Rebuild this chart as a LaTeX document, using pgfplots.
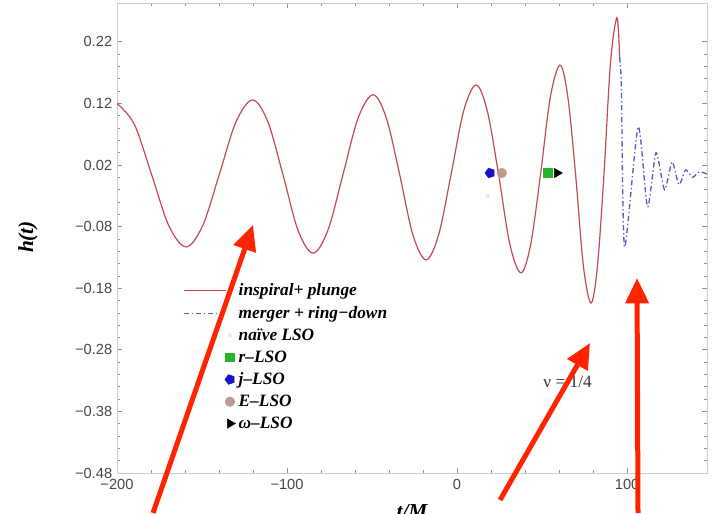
\documentclass[border=0pt]{standalone}
\usepackage{fontspec}
\setmainfont{Liberation Serif}
\setsansfont{Liberation Sans}
\usepackage{pgfplots}
\pgfplotsset{compat=1.18}
\usetikzlibrary{arrows.meta}
\definecolor{wave}{RGB}{200,70,85}
\definecolor{ring}{RGB}{90,90,200}
\definecolor{arr}{RGB}{255,35,0}
\definecolor{eLSO}{RGB}{190,155,145}
\definecolor{rLSO}{RGB}{40,180,40}
\definecolor{jLSO}{RGB}{20,20,200}
\definecolor{naive}{RGB}{215,215,190}
\definecolor{frame}{RGB}{205,205,205}
\definecolor{ticklab}{RGB}{70,70,70}
\pgfplotsset{
  linelegend/.style={legend image code/.code={\draw[##1] (0pt,0pt) -- (31.5pt,0pt); \path[draw=none,fill=none] (0pt,0pt) (40pt,0pt);}},
  marklegend/.style={legend image code/.code={\draw[##1] plot coordinates {(34.5pt,0pt)}; \path[draw=none,fill=none] (0pt,0pt) (40pt,0pt);}},
}
\begin{document}
\begin{tikzpicture}
\begin{axis}[
  at={(87.75pt,30pt)}, anchor=south west,
  scale only axis, width=442.5pt, height=352.5pt,
  xmin=-200, xmax=147, ymin=-0.48, ymax=0.283,
  xtick={-200,-100,0,100}, xticklabels={−200,−100,0,100},
  ytick={-0.48,-0.38,-0.28,-0.18,-0.08,0.02,0.12,0.22},
  yticklabels={−0.48,−0.38,−0.28,−0.18,−0.08,0.02,0.12,0.22},
  minor x tick num=4, minor y tick num=4,
  axis line style={frame, line width=0.6pt},
  tick style={frame!70!black, line width=0.5pt},
  major tick length=4pt, minor tick length=2pt,
  tick label style={font=\sffamily\fontsize{11}{13}\selectfont, text=ticklab},
  xticklabel style={yshift=-1.5pt},
  legend style={at={(0.112,0.406)}, anchor=north west, draw=none, fill=none,
    font=\fontsize{13}{15}\selectfont\bfseries\itshape, inner sep=0pt, row sep=4.3pt,
    nodes={inner sep=1pt}},
  legend cell align=left,
]
\addplot[wave, line width=0.9pt, smooth, tension=0.55, linelegend]
  coordinates {
(-200,0.12) (-189.85,0.0863) (-179.7,0.005) (-169.55,-0.0784) (-159.4,-0.113)
(-149.6,-0.0784) (-139.8,0.005) (-130.0,0.0902) (-120.2,0.1255)
(-111.3,0.0902) (-102.45,0.005) (-93.6,-0.0855) (-84.7,-0.123)
(-75.9,-0.0855) (-67.05,0.005) (-58.2,0.0962) (-49.4,0.134)
(-41.6,0.0962) (-33.8,0.005) (-26.0,-0.0933) (-18.2,-0.134)
(-10.85,-0.0933) (-3.5,0.005) (3.85,0.1075) (11.2,0.150)
(17.8,0.1075) (24.4,0.005) (31.0,-0.1081) (37.6,-0.155)
(43.35,-0.1081) (49.1,0.005) (54.85,0.1301) (60.6,0.182)
(65.15,0.1301) (69.7,0.005) (74.25,-0.1428) (78.8,-0.204)
(82.6,-0.1428) (86.4,0.005) (90.2,0.1846) (94,0.259) (95.6,0.195)
};
\addlegendentry{inspiral+ plunge}
\addplot[ring, line width=1pt, dash pattern=on 4pt off 2pt on 1pt off 2pt, smooth, tension=0.4, linelegend]
  coordinates {
(95.6,0.195) (96.6,0.15) (98.5,-0.113) (106.5,0.082) (112,-0.048) (117,0.04)
(122,-0.02) (126.5,0.025) (130.5,-0.012) (134.5,0.012) (138.5,0.0) (142.5,0.009) (147,0.005)
};
\addlegendentry{merger + ring−down}
\addplot[only marks, mark=x, mark size=2pt, naive, marklegend]
  coordinates {(18,-0.03)};
\addlegendentry{naïve LSO}
\addplot[only marks, mark=square*, mark size=3.2pt, rLSO, marklegend]
  coordinates {(53.3,0.007)};
\addlegendentry{r–LSO}
\addplot[only marks, mark=pentagon*, mark size=3.8pt, mark options={rotate=90}, jLSO, marklegend]
  coordinates {(19.4,0.007)};
\addlegendentry{j–LSO}
\addplot[only marks, mark=*, mark size=3.6pt, eLSO, marklegend]
  coordinates {(26.3,0.007)};
\addlegendentry{E–LSO}
\addplot[only marks, mark=triangle*, mark size=4pt, mark options={rotate=-90}, black, marklegend]
  coordinates {(58.8,0.007)};
\addlegendentry{ω–LSO}
\node[anchor=west, font=\fontsize{13}{15}\selectfont, text=black!80] at (axis cs:48,-0.332) {ν = 1/4};
\end{axis}
\node[rotate=90, font=\fontsize{16}{18}\selectfont\bfseries\itshape] at (21pt,207pt) {h(t)};
\node[anchor=north, font=\fontsize{16}{18}\selectfont\bfseries\itshape] at (309pt,10pt) {t/M};
\draw[arr, line width=3.75pt, -{Triangle[length=19pt,width=17pt]}] (114.75pt,0pt) -- (189.75pt,216pt);
\draw[arr, line width=3.75pt, -{Triangle[length=19pt,width=17pt]}] (375pt,9.75pt) -- (442.5pt,127.5pt);
\draw[arr, line width=3.75pt, -{Triangle[length=19pt,width=17pt]}] (478.5pt,0pt) -- (477.75pt,176.25pt);
\pgfresetboundingbox
\path (0pt,0pt) rectangle (534pt,384.75pt);
\end{tikzpicture}
\end{document}
